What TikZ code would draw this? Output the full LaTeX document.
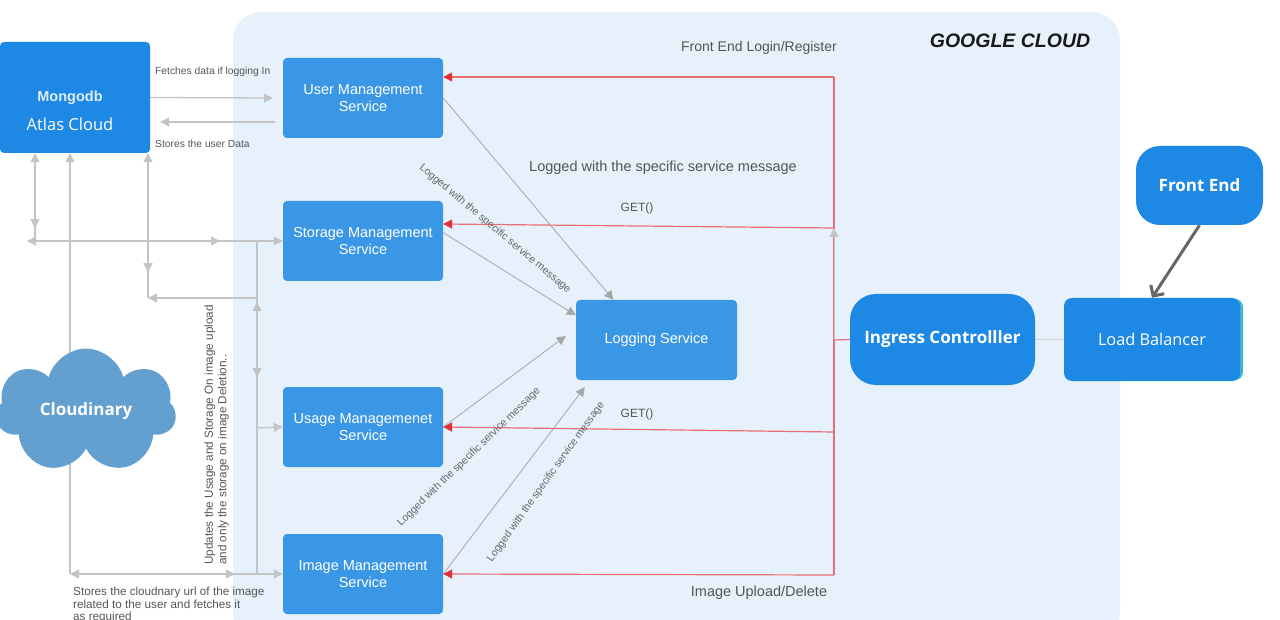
\documentclass[tikz,border=0pt]{standalone}
\usepackage{fontspec}
\setmainfont{Liberation Sans}
\newfontfamily\canva{Open Sans}
\usetikzlibrary{arrows.meta,shapes.symbols,decorations.markings}
\pgfdeclarelayer{back}
\pgfdeclarelayer{wires}
\pgfsetlayers{back,wires,main}
\definecolor{gcloud}{HTML}{E6F1FB}
\definecolor{svcblue}{HTML}{3A97E5}
\definecolor{canvablue}{HTML}{1E88E5}
\definecolor{cloudblue}{HTML}{64A0CF}
\definecolor{wiregray}{HTML}{C4C4C4}
\definecolor{labelgray}{HTML}{555555}
\definecolor{getred}{HTML}{E3303B}
\definecolor{lbteal}{HTML}{3DB9C9}

\begin{document}
\begin{tikzpicture}[x=1pt,y=-1pt,>={Triangle[length=9pt,width=9pt]},
  svc/.style={rectangle, rounded corners=4pt, fill=svcblue, text=white, minimum width=160pt, minimum height=80pt, inner sep=0pt, align=center, font=\fontsize{14.5}{17}\selectfont},
  canvabox/.style={rectangle, fill=canvablue, text=white, inner sep=0pt, align=center},
  lbl/.style={text=labelgray, inner sep=0pt},
  wire/.style={draw=wiregray, line width=1.3pt},
  logwire/.style={draw=wiregray!85!black, line width=0.8pt, ->},
  redwire/.style={draw=getred!70, line width=1.2pt},
  redtip/.style={redwire, -{Triangle[length=9pt,width=9pt,color=getred]}},
  midtip/.style={postaction={decorate, decoration={markings, mark=at position #1 with {\arrow{Triangle[length=9pt,width=9pt]}}}}},
  midtipback/.style={postaction={decorate, decoration={markings, mark=at position #1 with {\arrowreversed{Triangle[length=9pt,width=9pt]}}}}}]
  \useasboundingbox (0,0) rectangle (1280,620);
  \begin{pgfonlayer}{back}
    \fill[gcloud, rounded corners=28pt] (233,12) rectangle (1120,640);
  \end{pgfonlayer}
  \node[font=\bfseries\itshape\fontsize{19.5}{22}\selectfont, text=black!90] (gtitle) at (1010,41) {GOOGLE CLOUD};

  \node[svc] (usersvc) at (363,98) {User Management\\Service};
  \node[svc] (storagesvc) at (363,241) {Storage Management\\Service};
  \node[svc] (usagesvc) at (363,427) {Usage Managemenet\\Service};
  \node[svc] (imagesvc) at (363,574) {Image Management\\Service};
  \node[svc, minimum width=161pt] (logsvc) at (656.5,340) {Logging Service};

  \node[canvabox, rounded corners=4pt, minimum width=150pt, minimum height=111pt] (mongo) at (75,97.5) {};
  \node[text=white!85!canvablue, font=\bfseries\fontsize{14.5}{16}\selectfont] (mongoname) at (70,98) {Mongodb};
  \node[text=white, font=\canva\fontsize{16.5}{19}\selectfont] (mongoatlas) at (70,124) {Atlas Cloud};
  \node[cloud, cloud puffs=7, aspect=1.45, fill=cloudblue, minimum width=180pt, minimum height=122pt, inner sep=0pt, text=white, font=\canva\bfseries\fontsize{17}{20}\selectfont] (cloudinary) at (86,411) {Cloudinary};

  \node[canvabox, rounded corners=24pt, minimum width=127pt, minimum height=79pt, font=\canva\bfseries\fontsize{17}{20}\selectfont] (frontend) at (1199.5,185.5) {Front End};
  \node[fill=lbteal, rounded corners=8pt, minimum width=176pt, minimum height=81pt, inner sep=0pt] (lbshadow) at (1155,339.5) {};
  \node[canvabox, rounded corners=8pt, minimum width=176pt, minimum height=83pt, font=\canva\fontsize{16.3}{19}\selectfont] (lb) at (1152,339.5) {Load Balancer};
  \node[canvabox, rounded corners=26pt, minimum width=185pt, minimum height=91pt, font=\canva\bfseries\fontsize{17}{20}\selectfont] (ingress) at (942.5,339.5) {Ingress Controlller};

  \node[lbl, anchor=west, font=\fontsize{10.3}{12}\selectfont] (fetchlbl) at (155,72) {Fetches data if logging In};
  \node[lbl, anchor=west, font=\fontsize{10.3}{12}\selectfont] (storelbl) at (155,144) {Stores the user Data};
  \node[lbl, font=\fontsize{14}{16}\selectfont] (loginlbl) at (759,48) {Front End Login/Register};
  \node[lbl, font=\fontsize{14.5}{17}\selectfont] (loglbl) at (663,168) {Logged with the specific service message};
  \node[lbl, font=\fontsize{12}{14}\selectfont] (get1lbl) at (637,208) {GET()};
  \node[lbl, font=\fontsize{12}{14}\selectfont] (get2lbl) at (637,414) {GET()};
  \node[lbl, font=\fontsize{14.5}{17}\selectfont] (uploadlbl) at (759,593) {Image Upload/Delete};
  \node[lbl, text=black!60, rotate=-40, font=\fontsize{10.5}{12}\selectfont] (storagelog) at (495,229) {Logged with the specific service message};
  \node[lbl, text=black!60, rotate=44, font=\fontsize{10.5}{12}\selectfont] (usagelog) at (469,457) {Logged with the specific service message};
  \node[lbl, text=black!60, rotate=54.5, font=\fontsize{10.5}{12}\selectfont] (imagelog) at (546,482) {Logged with the specific service message};
  \node[lbl, rotate=90, align=left, font=\fontsize{11.7}{13.5}\selectfont] (updatelbl) at (216.5,435) {Updates the Usage and Storage On image upload\\and only the storage on image Deletion..};
  \node[lbl, anchor=north west, align=left, font=\fontsize{11.7}{12.6}\selectfont] (cloudnarylbl) at (73,587) {Stores the cloudnary url of the image\\related to the user and fetches it\\as required};

  \coordinate (lA) at (27,241);
  \coordinate (lB) at (35,241);
  \coordinate (lC) at (257,241);
  \coordinate (lD) at (148,298);
  \coordinate (lE) at (257,298);
  \coordinate (lF) at (257,428);
  \coordinate (lG) at (70,574);
  \coordinate (lH) at (257,574);
  \coordinate (rtop) at (834,77);
  \coordinate (rget1) at (834,228);
  \coordinate (ring) at (834,340);
  \coordinate (rget2) at (834,432);
  \coordinate (rbot) at (834,575);

  \begin{pgfonlayer}{wires}
    \draw[wire, ->] (mongo.east) -- ([xshift=-10pt]usersvc.west);
    \draw[wire, ->] ([shift={(-8pt,-24pt)}]usersvc.west) -- ([shift={(10pt,-24.5pt)}]mongo.east);
    \draw[wire, <-, midtip=75pt] (lB |- mongo.south) -- (lB);
    \draw[wire, <->, midtip=193pt] (lA) -- (storagesvc.west);
    \draw[wire, ->] (lG) -- (lG |- mongo.south);
    \draw[wire, <-, midtip=119pt] (lD |- mongo.south) -- (lD);
    \draw[wire, ->] (lE) -- (lD);
    \draw[wire, midtipback=61pt, midtip=136pt] (lC) -- (lH);
    \draw[wire, ->] (lF) -- (usagesvc.west);
    \draw[wire, <->, midtip=165pt] (lG) -- (imagesvc.west);

    \draw[logwire] (usersvc.east) -- (logsvc.137);
    \draw[logwire] (storagesvc.6) -- (logsvc.163);
    \draw[logwire] (usagesvc.east) -- ([shift={(-10pt,4pt)}]logsvc.west);
    \draw[logwire] (imagesvc.east) -- ([shift={(9pt,-7pt)}]logsvc.south west);

    \draw[redwire] (rtop) -- (rbot);
    \draw[wire, line width=1pt, ->] (ring) -- (rget1);
    \draw[redtip] (rtop) -- (usersvc.east |- rtop);
    \draw[redtip] (rget1) -- ([yshift=17pt]storagesvc.east);
    \foreach \source/\dest in {rget2/usagesvc.east, rbot/imagesvc.east}
      \draw[redtip] (\source) -- (\dest);
    \draw[redwire] (ring) -- (ingress.west);
    \draw[draw=black!18, line width=1pt] (ingress.east) -- (lb.west);
    \draw[draw=black!60, line width=3pt, -{Straight Barb[length=8pt,width=16pt]}] (frontend.south) -- (lb.north);
  \end{pgfonlayer}
\end{tikzpicture}
\end{document}
